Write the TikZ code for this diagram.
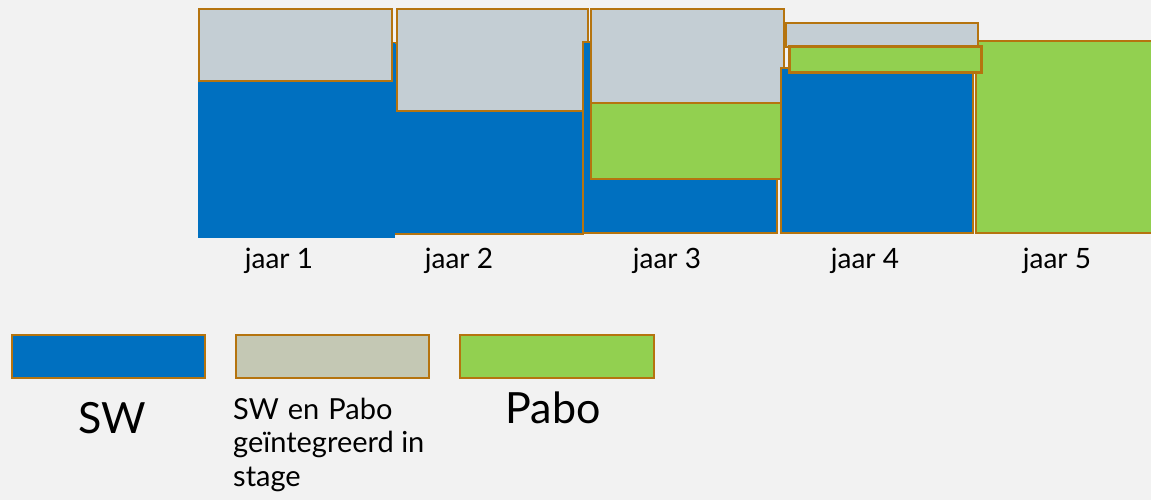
\documentclass[tikz,border=0pt]{standalone}
\usepackage{fontspec}
\setmainfont{Lato}
\definecolor{bg}{HTML}{F2F2F2}
\definecolor{swblue}{HTML}{0070C0}
\definecolor{mixgray}{HTML}{C4CED4}
\definecolor{leggray}{HTML}{C4C8B4}
\definecolor{pgreen}{HTML}{92D050}
\definecolor{edge}{HTML}{B5740F}
\tikzset{
  bar/.style={draw=edge, line width=2.4pt},
  barplain/.style={line width=0pt},
  yearlbl/.style={anchor=base, inner sep=0pt, font=\fontsize{28}{30}\selectfont},
  biglbl/.style={anchor=base, inner sep=0pt, font=\fontsize{43}{50}\selectfont},
  smalllbl/.style={anchor=base west, inner sep=0pt, font=\fontsize{29}{34}\selectfont}
}
\begin{document}
\begin{tikzpicture}[x=1pt,y=-1pt]
\fill[bg] (0,0) rectangle (1151,500);
\useasboundingbox (0,0) rectangle (1151,500);
\clip (0,0) rectangle (1151,500);
% year 2 blue
\path[bar, fill=swblue] (393,43) rectangle (583,234);
% year 1
\path[barplain, fill=swblue] (198,43) rectangle (394.5,238);
\path[bar, fill=mixgray] (199,9) rectangle (392,81);
% year 2 gray
\path[bar, fill=mixgray] (397,9) rectangle (588,111);
% year 3
\path[bar, fill=swblue] (583,42) rectangle (777,233);
\path[bar, fill=mixgray] (591,9) rectangle (784,103);
\path[bar, fill=pgreen] (591,103) rectangle (784,179);
% year 4
\path[bar, fill=swblue] (781,68) rectangle (973,233);
% year 5
\path[bar, fill=pgreen] (976,41) rectangle (1165,233);
\path[bar, fill=mixgray] (786,23) rectangle (978,47);
\path[bar, fill=pgreen, line width=3pt] (789,47) rectangle (981,73);
% year labels
\node[yearlbl] (j1) at (279,268) {jaar 1};
\node[yearlbl] (j2) at (459,268) {jaar 2};
\node[yearlbl] (j3) at (667,268) {jaar 3};
\node[yearlbl] (j4) at (865,268) {jaar 4};
\node[yearlbl] (j5) at (1057,268) {jaar 5};
% legend
\path[bar, fill=swblue] (12,335) rectangle (205,378);
\path[bar, fill=leggray] (236,335) rectangle (429,378);
\path[bar, fill=pgreen] (460,335) rectangle (654,378);
\node[biglbl] (lsw) at (112,433) {SW};
\node[biglbl] (lpabo) at (553,423) {Pabo};
\node[smalllbl] (lmixa) at (233,419) {\spaceskip=9pt\relax SW en Pabo};
\node[smalllbl] (lmixb) at (233,452) {geïntegreerd in};
\node[smalllbl] (lmixc) at (233,486) {stage};
\end{tikzpicture}
\end{document}
